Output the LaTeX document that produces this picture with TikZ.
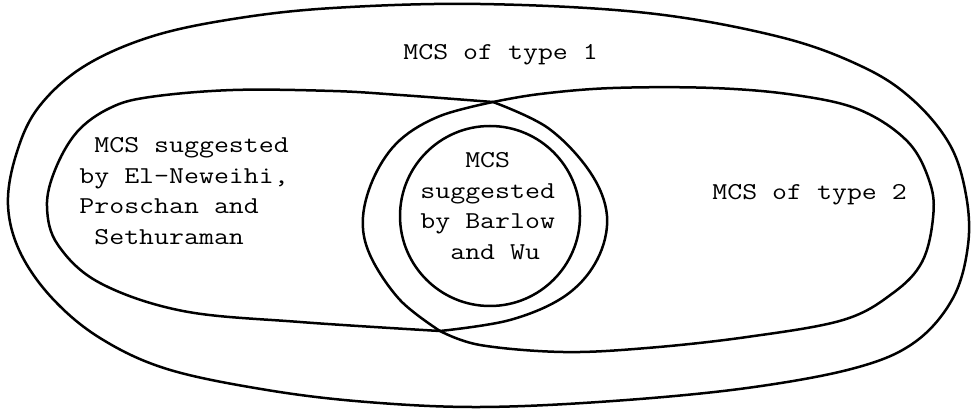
\documentclass[tikz,border=0pt]{standalone}
\usepackage{graphicx}
\usepackage{fontspec}
\newcommand{\tw}[1]{\scalebox{1.2}[1]{#1}}
\begin{document}
\begin{tikzpicture}[x=0.5pt,y=-0.5pt,
  curve/.style={line width=1.25pt, line join=round, line cap=round},
  lbl/.style={anchor=base west, inner sep=0pt,
    font=\ttfamily\addfontfeatures{FakeBold=0.6}\fontsize{12.1}{15.5}\selectfont}]
\useasboundingbox (0,0) rectangle (972,410);
\coordinate (T) at (493,102);
\coordinate (B) at (440,331);
% outer curve: MCS of type 1
\draw[curve] plot[smooth cycle, tension=0.6] coordinates {
  (480,4) (647,13) (780,37) (863,67) (913,100) (950,145) (966,195) (968,245)
  (953,298) (915,342) (855,368) (747,388) (613,401) (480,407) (367,402)
  (267,390) (167,369) (100,338) (52,298) (20,252) (8,205) (16,155) (38,108)
  (83,67) (150,37) (233,19) (333,8)};
% left region (El-Neweihi, Proschan, Sethuraman): outer arc
\draw[curve] plot[smooth, tension=0.6] coordinates {
  (T) (400,95) (333,91) (233,90) (150,97) (110,108) (77,132) (55,170) (47,207)
  (58,245) (100,283) (183,311) (300,322) (B)};
% its right arc (right side of the middle circle)
\draw[curve] plot[smooth, tension=0.6] coordinates {
  (T) (548,128) (590,172) (607,216) (597,260) (565,296) (510,320) (B)};
% right region (type 2): outer arc
\draw[curve] plot[smooth, tension=0.6] coordinates {
  (T) (540,94) (613,88) (713,88) (795,95) (860,110) (908,142) (930,183) (933,218)
  (922,262) (893,293) (843,320) (747,337) (647,348) (563,352) (480,345) (B)};
% its left arc (left side of the middle circle)
\draw[curve] plot[smooth, tension=0.6] coordinates {
  (B) (400,300) (370,255) (363,217) (375,175) (400,140) (440,116) (T)};
% inner circle: Barlow and Wu
\draw[curve] (490,216) circle[radius=90];
% labels
\node[lbl] (t1) at (403,60) {\tw{MCS of type 1}};
\node[lbl] (e1) at (79,153) {\tw{\phantom{M}MCS suggested}};
\node[lbl] (e2) at (79,184) {\tw{by El-Neweihi,}};
\node[lbl] (e3) at (79,214) {\tw{Proschan and}};
\node[lbl] (e4) at (79,245) {\tw{\phantom{M}Sethuraman}};
\node[lbl] (b1) at (420,168) {\tw{\phantom{MMM}MCS}};
\node[lbl] (b2) at (420,199) {\tw{suggested}};
\node[lbl] (b3) at (420,229) {\tw{by Barlow}};
\node[lbl] (b4) at (420,260) {\tw{\phantom{MM}and Wu}};
\node[lbl] (t2) at (712,200) {\tw{MCS of type 2}};
\end{tikzpicture}
\end{document}
